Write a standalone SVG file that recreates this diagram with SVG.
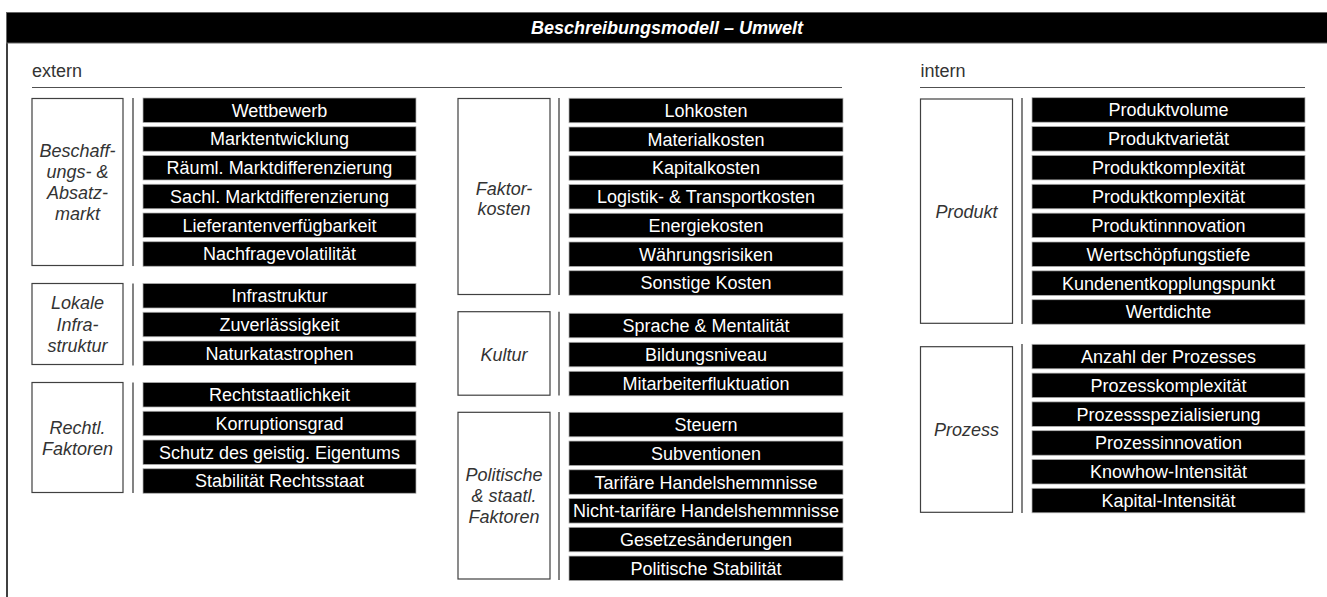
<svg xmlns="http://www.w3.org/2000/svg" width="1327" height="597" viewBox="0 0 1327 597">
  <style>
    .bar rect { fill: #000; stroke: #b0b0b0; stroke-width: 0.75; }
    .bar text { fill: #fff; font-family: "Liberation Sans", Arial, sans-serif; font-size: 18px; text-anchor: middle; }
    .cat rect { fill: #fff; stroke: #404040; stroke-width: 1.2; }
    .cat text { fill: #333; font-family: "Liberation Sans", Arial, sans-serif; font-size: 18px; font-style: italic; text-anchor: middle; }
    .sep line { stroke: #404040; stroke-width: 1.3; }
    .rule { stroke: #505050; stroke-width: 1.2; }
    .head { fill: #333; font-family: "Liberation Sans", Arial, sans-serif; font-size: 18px; }
  </style>

  <rect width="1327" height="597" fill="#fff"/>

  <!-- frame and title bar -->
  <g id="frame">
    <line x1="7" y1="12" x2="7" y2="597" stroke="#000" stroke-width="1.5"/>
    <rect x="6.5" y="12.5" width="1322" height="30.5" fill="#000" stroke="#666" stroke-width="1"/>
    <text x="667" y="33.5" fill="#fff" font-family="Liberation Sans, Arial, sans-serif" font-size="18" font-weight="bold" font-style="italic" text-anchor="middle">Beschreibungsmodell – Umwelt</text>
  </g>

  <!-- section headings -->
  <g id="sections">
    <text class="head" x="32" y="77">extern</text>
    <line class="rule" x1="32" y1="87.5" x2="842" y2="87.5"/>
    <text class="head" x="920.5" y="77">intern</text>
    <line class="rule" x1="920" y1="87.5" x2="1305" y2="87.5"/>
  </g>

  <!-- separators between categories and their factors -->
  <g id="connectors" class="sep">
    <line x1="133" y1="98" x2="133" y2="266"/>
    <line x1="133" y1="283.5" x2="133" y2="365.5"/>
    <line x1="133" y1="382.5" x2="133" y2="493"/>
    <line x1="559" y1="98" x2="559" y2="295"/>
    <line x1="559" y1="311.7" x2="559" y2="395.5"/>
    <line x1="559" y1="412" x2="559" y2="580"/>
    <line x1="1022" y1="98" x2="1022" y2="324"/>
    <line x1="1022" y1="344" x2="1022" y2="513"/>
  </g>

  <!-- extern: left column -->
  <g id="cat-beschaffung" class="cat">
    <rect x="32" y="98.5" width="91" height="167"/>
    <text x="77.5" y="156.5">Beschaff-<tspan x="77.5" dy="21.3">ungs- &amp;</tspan><tspan x="77.5" dy="21.3">Absatz-</tspan><tspan x="77.5" dy="21.3">markt</tspan></text>
  </g>
  <g id="f-wettbewerb" class="bar"><rect x="143" y="98" width="273" height="24.5"/><text x="279.5" y="116.7">Wettbewerb</text></g>
  <g id="f-marktentwicklung" class="bar"><rect x="143" y="126.75" width="273" height="24.5"/><text x="279.5" y="145.45">Marktentwicklung</text></g>
  <g id="f-raeuml" class="bar"><rect x="143" y="155.5" width="273" height="24.5"/><text x="279.5" y="174.2">Räuml. Marktdifferenzierung</text></g>
  <g id="f-sachl" class="bar"><rect x="143" y="184.25" width="273" height="24.5"/><text x="279.5" y="202.95">Sachl. Marktdifferenzierung</text></g>
  <g id="f-lieferanten" class="bar"><rect x="143" y="213" width="273" height="24.5"/><text x="279.5" y="231.7">Lieferantenverfügbarkeit</text></g>
  <g id="f-nachfrage" class="bar"><rect x="143" y="241.75" width="273" height="24.5"/><text x="279.5" y="260.45">Nachfragevolatilität</text></g>

  <g id="cat-infrastruktur" class="cat">
    <rect x="32" y="283.5" width="91" height="81"/>
    <text x="77.5" y="309.2">Lokale<tspan x="77.5" dy="21.5">Infra-</tspan><tspan x="77.5" dy="21.5">struktur</tspan></text>
  </g>
  <g id="f-infrastruktur" class="bar"><rect x="143" y="283.5" width="273" height="24.5"/><text x="279.5" y="302.2">Infrastruktur</text></g>
  <g id="f-zuverlaessigkeit" class="bar"><rect x="143" y="312.25" width="273" height="24.5"/><text x="279.5" y="330.95">Zuverlässigkeit</text></g>
  <g id="f-natur" class="bar"><rect x="143" y="341" width="273" height="24.5"/><text x="279.5" y="359.7">Naturkatastrophen</text></g>

  <g id="cat-recht" class="cat">
    <rect x="32" y="382.5" width="91" height="110"/>
    <text x="77.5" y="433.5">Rechtl.<tspan x="77.5" dy="21.5">Faktoren</tspan></text>
  </g>
  <g id="f-rechtstaat" class="bar"><rect x="143" y="382.5" width="273" height="24.5"/><text x="279.5" y="401.2">Rechtstaatlichkeit</text></g>
  <g id="f-korruption" class="bar"><rect x="143" y="411.25" width="273" height="24.5"/><text x="279.5" y="429.95">Korruptionsgrad</text></g>
  <g id="f-eigentum" class="bar"><rect x="143" y="440" width="273" height="24.5"/><text x="279.5" y="458.7">Schutz des geistig. Eigentums</text></g>
  <g id="f-stabilitaet-recht" class="bar"><rect x="143" y="468.75" width="273" height="24.5"/><text x="279.5" y="487.45">Stabilität Rechtsstaat</text></g>

  <!-- extern: middle column -->
  <g id="cat-faktorkosten" class="cat">
    <rect x="458" y="98.5" width="92" height="196"/>
    <text x="504" y="194.5">Faktor-<tspan x="504" dy="20.5">kosten</tspan></text>
  </g>
  <g id="f-lohn" class="bar"><rect x="569" y="98.25" width="274" height="24.5"/><text x="706" y="116.95">Lohkosten</text></g>
  <g id="f-material" class="bar"><rect x="569" y="127" width="274" height="24.5"/><text x="706" y="145.7">Materialkosten</text></g>
  <g id="f-kapital" class="bar"><rect x="569" y="155.75" width="274" height="24.5"/><text x="706" y="174.45">Kapitalkosten</text></g>
  <g id="f-logistik" class="bar"><rect x="569" y="184.5" width="274" height="24.5"/><text x="706" y="203.2">Logistik- &amp; Transportkosten</text></g>
  <g id="f-energie" class="bar"><rect x="569" y="213.25" width="274" height="24.5"/><text x="706" y="231.95">Energiekosten</text></g>
  <g id="f-waehrung" class="bar"><rect x="569" y="242" width="274" height="24.5"/><text x="706" y="260.7">Währungsrisiken</text></g>
  <g id="f-sonstige" class="bar"><rect x="569" y="270.75" width="274" height="24.5"/><text x="706" y="289.45">Sonstige Kosten</text></g>

  <g id="cat-kultur" class="cat">
    <rect x="458" y="311.7" width="92" height="83.5"/>
    <text x="504" y="360.5">Kultur</text>
  </g>
  <g id="f-sprache" class="bar"><rect x="569" y="313.3" width="274" height="24.5"/><text x="706" y="332">Sprache &amp; Mentalität</text></g>
  <g id="f-bildung" class="bar"><rect x="569" y="342.3" width="274" height="24.5"/><text x="706" y="361">Bildungsniveau</text></g>
  <g id="f-fluktuation" class="bar"><rect x="569" y="371.3" width="274" height="24.5"/><text x="706" y="390">Mitarbeiterfluktuation</text></g>

  <g id="cat-politik" class="cat">
    <rect x="458" y="412.3" width="92" height="166.7"/>
    <text x="504" y="481.2">Politische<tspan x="504" dy="20.8">&amp; staatl.</tspan><tspan x="504" dy="20.8">Faktoren</tspan></text>
  </g>
  <g id="f-steuern" class="bar"><rect x="569" y="412.3" width="274" height="24.5"/><text x="706" y="431">Steuern</text></g>
  <g id="f-subventionen" class="bar"><rect x="569" y="441.05" width="274" height="24.5"/><text x="706" y="459.75">Subventionen</text></g>
  <g id="f-tarifaer" class="bar"><rect x="569" y="469.8" width="274" height="24.5"/><text x="706" y="488.5">Tarifäre Handelshemmnisse</text></g>
  <g id="f-nichttarifaer" class="bar"><rect x="569" y="498.55" width="274" height="24.5"/><text x="706" y="517.25">Nicht-tarifäre Handelshemmnisse</text></g>
  <g id="f-gesetze" class="bar"><rect x="569" y="527.3" width="274" height="24.5"/><text x="706" y="546">Gesetzesänderungen</text></g>
  <g id="f-stabilitaet-pol" class="bar"><rect x="569" y="556.05" width="274" height="24.5"/><text x="706" y="574.75">Politische Stabilität</text></g>

  <!-- intern: right column -->
  <g id="cat-produkt" class="cat">
    <rect x="920.5" y="99" width="92" height="224.3"/>
    <text x="966.5" y="218">Produkt</text>
  </g>
  <g id="f-volume" class="bar"><rect x="1032" y="97.7" width="273" height="24.5"/><text x="1168.5" y="116.4">Produktvolume</text></g>
  <g id="f-varietaet" class="bar"><rect x="1032" y="126.56" width="273" height="24.5"/><text x="1168.5" y="145.26">Produktvarietät</text></g>
  <g id="f-komplex1" class="bar"><rect x="1032" y="155.42" width="273" height="24.5"/><text x="1168.5" y="174.12">Produktkomplexität</text></g>
  <g id="f-komplex2" class="bar"><rect x="1032" y="184.28" width="273" height="24.5"/><text x="1168.5" y="202.98">Produktkomplexität</text></g>
  <g id="f-innovation" class="bar"><rect x="1032" y="213.14" width="273" height="24.5"/><text x="1168.5" y="231.84">Produktinnnovation</text></g>
  <g id="f-wertschoepfung" class="bar"><rect x="1032" y="242" width="273" height="24.5"/><text x="1168.5" y="260.7">Wertschöpfungstiefe</text></g>
  <g id="f-kundenentkopplung" class="bar"><rect x="1032" y="270.86" width="273" height="24.5"/><text x="1168.5" y="289.56">Kundenentkopplungspunkt</text></g>
  <g id="f-wertdichte" class="bar"><rect x="1032" y="299.72" width="273" height="24.5"/><text x="1168.5" y="318.42">Wertdichte</text></g>

  <g id="cat-prozess" class="cat">
    <rect x="920.5" y="346.7" width="92" height="165.6"/>
    <text x="966.5" y="436">Prozess</text>
  </g>
  <g id="f-anzahl" class="bar"><rect x="1032" y="344.3" width="273" height="24.5"/><text x="1168.5" y="363">Anzahl der Prozesses</text></g>
  <g id="f-pkomplex" class="bar"><rect x="1032" y="373.1" width="273" height="24.5"/><text x="1168.5" y="391.8">Prozesskomplexität</text></g>
  <g id="f-spezialisierung" class="bar"><rect x="1032" y="401.9" width="273" height="24.5"/><text x="1168.5" y="420.6">Prozessspezialisierung</text></g>
  <g id="f-pinnovation" class="bar"><rect x="1032" y="430.7" width="273" height="24.5"/><text x="1168.5" y="449.4">Prozessinnovation</text></g>
  <g id="f-knowhow" class="bar"><rect x="1032" y="459.5" width="273" height="24.5"/><text x="1168.5" y="478.2">Knowhow-Intensität</text></g>
  <g id="f-kapitalint" class="bar"><rect x="1032" y="488.3" width="273" height="24.5"/><text x="1168.5" y="507">Kapital-Intensität</text></g>
</svg>
